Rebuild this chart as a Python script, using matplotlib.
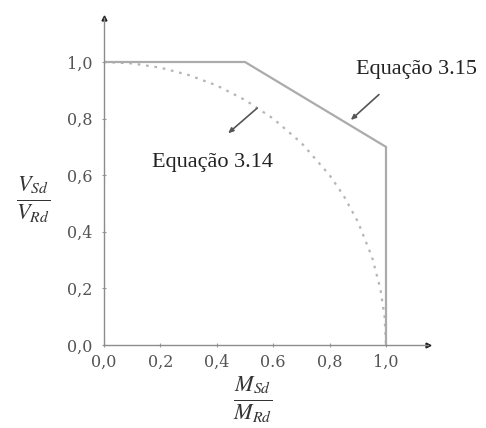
import matplotlib
matplotlib.use("Agg")
import matplotlib.pyplot as plt

plt.rcParams['mathtext.fontset'] = 'stix'

# Equação 3.15 (polygonal limit)
eq315_m = [0.0, 0.5, 1.0, 1.0]
eq315_v = [1.0, 1.0, 0.7, 0.0]

# Equação 3.14 (dotted curve)
eq314_m = [0.0, 0.1, 0.2, 0.3, 0.4, 0.5, 0.6, 0.7, 0.8, 0.85, 0.9, 0.95, 0.98, 0.995, 1.0]
eq314_v = [1.0, 0.995, 0.98, 0.954, 0.917, 0.866, 0.8, 0.714, 0.6, 0.527, 0.436, 0.312, 0.199, 0.1, 0.0]

ticks = [0.0, 0.2, 0.4, 0.6, 0.8, 1.0]
xticklabels = ['0,0', '0,2', '0,4', '0.6', '0,8', '1,0']
yticklabels = ['0,0', '0,2', '0,4', '0,6', '0,8', '1,0']

W, H = 486, 428
fig = plt.figure(figsize=(W / 100, H / 100), dpi=100)
x0, y0 = 104, 345          # pixel of the origin
ux, uy = 282, 283          # pixels per unit
xmax, ymax = 1.15, 1.155
ax = fig.add_axes([x0 / W, (H - y0) / H, xmax * ux / W, ymax * uy / H])
ax.set_xlim(0, xmax)
ax.set_ylim(0, ymax)

ax.plot(eq314_m, eq314_v, color='#b5b5b5', lw=1.6, linestyle=(0, (1.2, 2.6)))
ax.plot(eq315_m, eq315_v, color='#ababab', lw=1.6, solid_joinstyle='miter')

for s in ['top', 'right']:
    ax.spines[s].set_visible(False)
for s in ['left', 'bottom']:
    ax.spines[s].set_color('#8c8c8c')
    ax.spines[s].set_linewidth(1.0)

ax.plot(0, 1, '^', color='#222222', ms=3.5, transform=ax.transAxes, clip_on=False)
ax.plot(1, 0, '>', color='#222222', ms=3.5, transform=ax.transAxes, clip_on=False)

ax.set_xticks(ticks)
ax.set_xticklabels(xticklabels)
ax.set_yticks(ticks)
ax.set_yticklabels(yticklabels)
ax.tick_params(axis='both', colors='#9a9a9a', labelcolor='#555555', labelsize=11.5,
               length=3, width=0.8, direction='inout')
ax.tick_params(axis='x', pad=5)
ax.tick_params(axis='y', pad=7)
for lab in ax.get_xticklabels() + ax.get_yticklabels():
    lab.set_fontfamily('DejaVu Serif')

arrow = dict(arrowstyle='-|>,head_length=0.3,head_width=0.13',
             color='#555555', lw=1.2, shrinkA=0, shrinkB=0)

ax.text(0.895, 0.975, 'Equação 3.15', fontsize=16, family='Liberation Serif',
        color='#222222', va='center', ha='left')
ax.annotate('', xy=(0.875, 0.795), xytext=(0.975, 0.885), arrowprops=arrow)

ax.text(0.17, 0.645, 'Equação 3.14', fontsize=16, family='Liberation Serif',
        color='#222222', va='center', ha='left')
ax.annotate('', xy=(0.44, 0.748), xytext=(0.543, 0.837), arrowprops=arrow)

fig.text(33 / W, 1 - 200 / H, r'$\frac{V_{Sd}}{V_{Rd}}$', fontsize=23,
         ha='center', va='center', color='#333333')
fig.text(253 / W, 1 - 400 / H, r'$\frac{M_{Sd}}{M_{Rd}}$', fontsize=23,
         ha='center', va='center', color='#333333')

fig.savefig('out.png', dpi=100)
